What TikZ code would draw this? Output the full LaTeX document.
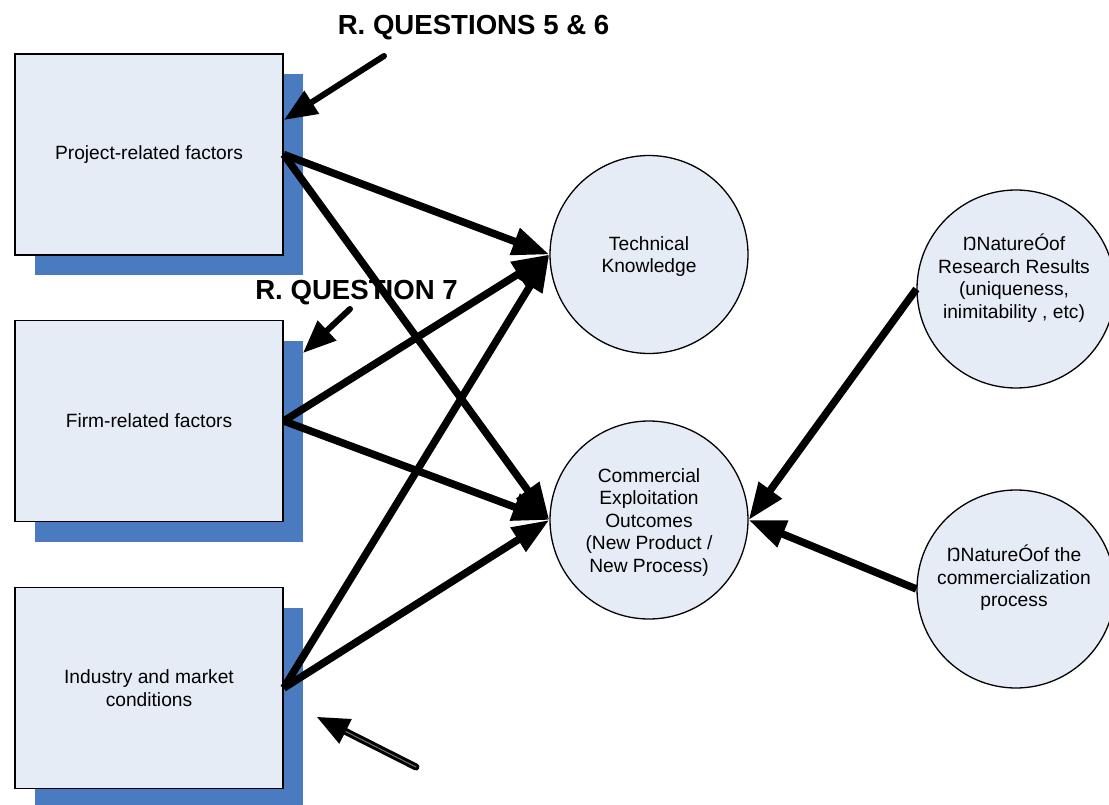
\documentclass[tikz,border=0pt]{standalone}
\usepackage{fontspec}
\setmainfont{Liberation Sans}
\usetikzlibrary{arrows.meta,shadows}
\definecolor{boxfill}{RGB}{230,236,246}
\definecolor{shadowblue}{RGB}{74,123,193}
\tikzset{
  factorbox/.style={draw=black, line width=1.5pt, fill=boxfill, minimum width=268pt, minimum height=201pt, inner sep=0pt, align=center,
    font=\fontsize{19.2}{22.5}\selectfont,
    general shadow={fill=shadowblue, shadow xshift=20pt, shadow yshift=-20pt}},
  outcome/.style={draw=black, line width=1.3pt, fill=boxfill, circle, minimum size=198pt, inner sep=0pt},
  circtext/.style={align=center, font=\fontsize{19.2}{22.5}\selectfont, inner sep=0pt},
  bigarrow/.style={line width=7.5pt, -{Triangle[length=37pt,width=27pt]}},
  qarrow/.style={line width=6pt, line cap=round, -{Triangle[length=33pt,width=26pt]}},
  qlabel/.style={font=\fontsize{27.6}{30}\selectfont\bfseries, inner sep=0pt},
}
\begin{document}
\begin{tikzpicture}[x=1pt,y=-1pt]
\useasboundingbox (0,0) rectangle (1109,805);
\clip (0,0) rectangle (1109,805);

% factor boxes
\node[factorbox] (p) at (149,154.5) {Project-related factors};
\node[factorbox] (f) at (149,421) {Firm-related factors};
\node[factorbox] (i) at (149,688) {Industry and market\\conditions};

% outcome circles
\node[outcome] (t) at (649,254.5) {};
\node[circtext] (tt) at (649,256.5) {Technical\\Knowledge};
\node[outcome] (c) at (649,520) {};
\node[circtext] (ct) at (649,522.5) {Commercial\\Exploitation\\Outcomes\\(New Product /\\New Process)};

% right circles
\node[outcome] (r1) at (1016,289) {};
\node[circtext] (r1t) at (1014,278) {ŊNatureÓof\\Research Results\\(uniqueness,\\inimitability , etc)};
\node[outcome] (r2) at (1016,589) {};
\node[circtext] (r2t) at (1014,578) {ŊNatureÓof the\\commercialization\\process};

% main arrows
\draw[bigarrow] (p.east) -- (t.west);
\draw[bigarrow] (p.east) -- (c.west);
\draw[bigarrow] (f.east) -- (t.west);
\draw[bigarrow] (f.east) -- (c.west);
\draw[bigarrow] (i.east) -- (t.west);
\draw[bigarrow] (i.east) -- (c.west);
\draw[bigarrow] (r1.west) -- (c.east);
\draw[bigarrow] (r2.west) -- (c.east);

% research question labels
\node[qlabel] (q56) at (473.5,28) {R. QUESTIONS 5 \& 6};
\node[qlabel] (q7) at (356.5,292.5) {R. QUESTION 7};
\coordinate (q56s) at (384,56);
\coordinate (q56e) at (284,120);
\coordinate (q7s) at (350,309);
\coordinate (q7e) at (303,353);
\coordinate (q8s) at (416,767);
\coordinate (q8e) at (317,717);
\draw[qarrow] (q56s) -- (q56e);
\draw[qarrow] (q7s) -- (q7e);
\draw[line width=3pt, double=black!55, double distance=1pt, line cap=round, -{Triangle[length=32pt,width=27pt]}] (q8s) -- (q8e);
\end{tikzpicture}
\end{document}
